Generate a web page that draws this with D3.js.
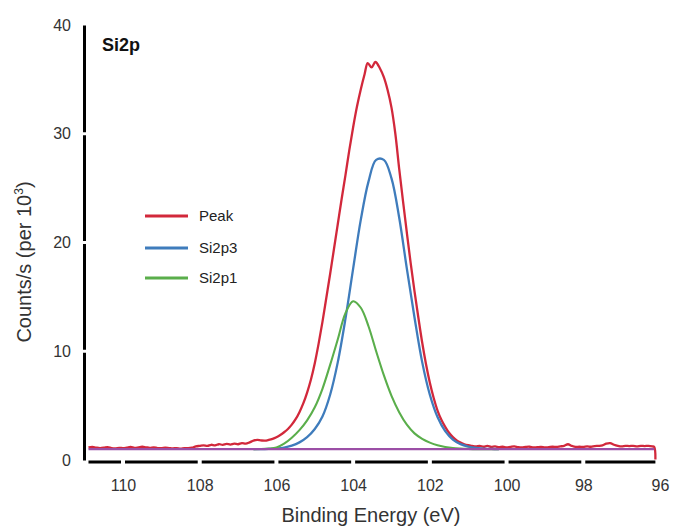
<!DOCTYPE html>
<html>
<head>
<meta charset="utf-8">
<script src="https://cdn.jsdelivr.net/npm/d3@7"></script>
<style>
  html, body { margin: 0; padding: 0; background: #fff; }
  svg { display: block; font-family: "Liberation Sans", Arial, Helvetica, sans-serif; }
</style>
</head>
<body>
<svg id="chart" width="675" height="527"></svg>
<script>
// ---------- data ----------
const xTicks = [110, 108, 106, 104, 102, 100, 98, 96];
const yTicks = [0, 10, 20, 30, 40];
const seriesNames = ["Peak", "Si2p3", "Si2p1"];
const seriesColors = ["#d2283b", "#3f7cbc", "#5aae4b"];
const baselineColor = "#9b4fa6";
const chartTitle = "Si2p";
const xTitle = "Binding Energy (eV)";

// measured envelope (Peak), binding energy in eV
const peakEnergy = [
  110.9,110.8,110.7,110.6,110.5,110.4,110.3,110.2,110.1,110.0,
  109.9,109.8,109.7,109.6,109.5,109.4,109.3,109.2,109.1,109.0,
  108.9,108.8,108.7,108.6,108.5,108.4,108.3,108.2,108.1,108.0,
  107.9,107.8,107.7,107.6,107.5,107.4,107.3,107.2,107.1,107.0,
  106.9,106.8,106.7,106.6,106.5,106.4,106.3,106.2,106.1,106.0,
  105.9,105.8,105.7,105.6,105.5,105.4,105.3,105.2,105.1,105.0,
  104.9,104.8,104.7,104.6,104.5,104.4,104.3,104.2,104.1,104.0,
  103.9,103.8,103.7,103.62,103.52,103.42,103.3,103.2,103.1,103.0,
  102.9,102.8,102.7,102.6,102.5,102.4,102.3,102.2,102.1,102.0,
  101.9,101.8,101.7,101.6,101.5,101.4,101.3,101.2,101.1,101.0,
  100.9,100.8,100.7,100.6,100.5,100.4,100.3,100.2,100.1,100.0,
  99.9,99.8,99.7,99.6,99.5,99.4,99.3,99.2,99.1,99.0,
  98.9,98.8,98.7,98.6,98.5,98.4,98.3,98.2,98.1,98.0,
  97.9,97.8,97.7,97.6,97.5,97.4,97.3,97.2,97.1,97.0,
  96.9,96.8,96.7,96.6,96.5,96.4,96.3,96.2,96.15,96.12
];
// counts/s (per 10^3)
const peakCounts = [
  1.15,1.20,1.14,1.10,1.13,1.19,1.10,1.07,1.12,1.09,
  1.14,1.20,1.12,1.16,1.22,1.17,1.12,1.16,1.10,1.08,
  1.13,1.10,1.07,1.10,1.05,1.10,1.08,1.13,1.25,1.30,
  1.35,1.30,1.40,1.35,1.45,1.40,1.48,1.42,1.50,1.45,
  1.55,1.50,1.62,1.78,1.85,1.80,1.78,1.85,1.95,2.10,
  2.30,2.55,2.85,3.25,3.75,4.40,5.20,6.20,7.40,8.90,
  10.7,12.7,14.9,17.1,19.4,21.7,24.0,26.2,28.5,30.6,
  32.5,34.1,35.5,36.5,36.1,36.6,36.0,35.2,34.0,32.4,
  30.0,26.8,23.8,20.9,18.1,15.5,13.1,10.8,8.8,7.1,
  5.7,4.55,3.7,3.05,2.5,2.1,1.8,1.6,1.45,1.36,
  1.30,1.25,1.30,1.22,1.30,1.20,1.25,1.18,1.22,1.15,
  1.20,1.25,1.18,1.15,1.20,1.22,1.15,1.18,1.20,1.15,
  1.18,1.22,1.20,1.25,1.30,1.45,1.30,1.20,1.22,1.20,
  1.25,1.22,1.28,1.30,1.35,1.50,1.55,1.40,1.30,1.25,
  1.30,1.28,1.30,1.25,1.30,1.28,1.30,1.25,1.20,0.05
];

// fitted components share one energy grid
const fitEnergy = [
  106.6,106.4,106.2,106.0,105.8,105.6,105.4,105.2,105.0,104.8,
  104.6,104.4,104.2,104.0,103.8,103.6,103.4,103.2,103.0,
  102.8,102.6,102.4,102.2,102.0,101.8,101.6,101.4,101.2,101.0,
  100.8,100.6,100.4,100.2
];
const si2p3Counts = [
  1.00,1.00,1.02,1.06,1.14,1.32,1.62,2.10,2.85,4.00,
  6.00,9.00,13.0,17.6,22.1,25.6,27.6,27.6,25.9,
  22.3,17.6,13.1,9.00,6.00,3.95,2.65,1.88,1.46,1.24,
  1.11,1.05,1.02,1.00
];
const si2p1Counts = [
  1.00,1.01,1.05,1.15,1.50,2.05,2.75,3.65,4.85,6.55,
  8.75,11.1,13.5,14.6,14.0,12.3,10.0,7.80,5.90,
  4.40,3.25,2.45,1.95,1.60,1.35,1.20,1.10,1.05,1.02,
  1.00,1.00,1.00,1.00
];
// background line
const baselineEnergy = [110.9, 96.15];
const baselineCounts = [1.0, 1.0];

// ---------- drawing ----------
const svg = d3.select("#chart");
const x = d3.scaleLinear().domain([110, 96]).range([123, 660]);
const y = d3.scaleLinear().domain([0, 40]).range([460, 25]);

const textColor = "#333";

// y axis
const yAxisG = svg.append("g").attr("transform", "translate(84,0)")
  .call(d3.axisLeft(y).tickValues(yTicks).tickSize(0).tickSizeOuter(0).tickPadding(13).tickFormat(d3.format("d")));
yAxisG.select(".domain").attr("stroke", "#000").attr("stroke-width", 3);
yAxisG.selectAll(".tick text").attr("font-size", 16).attr("fill", textColor).attr("font-family", null);
// small white gaps on the y axis at interior ticks
svg.append("g").selectAll("line").data(yTicks.filter(d => d > 0 && d < 40)).join("line")
  .attr("x1", 81).attr("x2", 87)
  .attr("y1", d => y(d)).attr("y2", d => y(d))
  .attr("stroke", "#fff").attr("stroke-width", 3);

// x axis (drawn along the data extent, broken at each tick)
const xAxisY = 462;
svg.append("line")
  .attr("x1", x(d3.max(peakEnergy))).attr("x2", x(d3.min(peakEnergy)))
  .attr("y1", xAxisY).attr("y2", xAxisY)
  .attr("stroke", "#000").attr("stroke-width", 3);
svg.append("g").selectAll("line").data(xTicks.filter(d => d > 96)).join("line")
  .attr("x1", d => x(d)).attr("x2", d => x(d))
  .attr("y1", xAxisY - 3).attr("y2", xAxisY + 3)
  .attr("stroke", "#fff").attr("stroke-width", 4);
const xAxisG = svg.append("g").attr("transform", `translate(0,${xAxisY})`)
  .call(d3.axisBottom(x).tickValues(xTicks).tickSize(0).tickPadding(18).tickFormat(d3.format("d")));
xAxisG.select(".domain").remove();
xAxisG.selectAll(".tick text").attr("font-size", 16).attr("fill", textColor).attr("font-family", null);

// axis titles
svg.append("text").attr("x", 371).attr("y", 522).attr("text-anchor", "middle")
  .attr("font-size", 20).attr("fill", textColor).text(xTitle);
const yt = svg.append("text").attr("transform", "translate(31,262) rotate(-90)")
  .attr("text-anchor", "middle").attr("font-size", 20).attr("fill", textColor);
yt.append("tspan").text("Counts/s (per 10");
yt.append("tspan").attr("font-size", 12).attr("dy", -8).text("3");
yt.append("tspan").attr("dy", 8).text(")");

// chart label
svg.append("text").attr("x", 102).attr("y", 51).attr("font-size", 18)
  .attr("font-weight", "bold").attr("fill", "#111").text(chartTitle);

// lines
const smooth = d3.line().x(d => x(d[0])).y(d => y(d[1])).curve(d3.curveCatmullRom.alpha(0.5));
const straight = d3.line().x(d => x(d[0])).y(d => y(d[1]));

svg.append("path").datum(d3.zip(peakEnergy, peakCounts))
  .attr("d", smooth).attr("fill", "none")
  .attr("stroke", seriesColors[0]).attr("stroke-width", 2.3).attr("stroke-linejoin", "round");
svg.append("path").datum(d3.zip(fitEnergy, si2p3Counts))
  .attr("d", smooth).attr("fill", "none").attr("stroke", seriesColors[1]).attr("stroke-width", 2.3);
svg.append("path").datum(d3.zip(fitEnergy, si2p1Counts))
  .attr("d", smooth).attr("fill", "none").attr("stroke", seriesColors[2]).attr("stroke-width", 2.1);
svg.append("path").datum(d3.zip(baselineEnergy, baselineCounts))
  .attr("d", straight).attr("fill", "none").attr("stroke", baselineColor).attr("stroke-width", 2.3);

// legend
const legend = svg.append("g");
const legendY = [216, 248, 278];
seriesNames.forEach((name, i) => {
  legend.append("line").attr("x1", 145).attr("x2", 188)
    .attr("y1", legendY[i]).attr("y2", legendY[i])
    .attr("stroke", seriesColors[i]).attr("stroke-width", 3);
  legend.append("text").attr("x", 199).attr("y", legendY[i]).attr("dy", "0.36em")
    .attr("font-size", 15).attr("fill", "#222").text(name);
});
</script>
</body>
</html>
